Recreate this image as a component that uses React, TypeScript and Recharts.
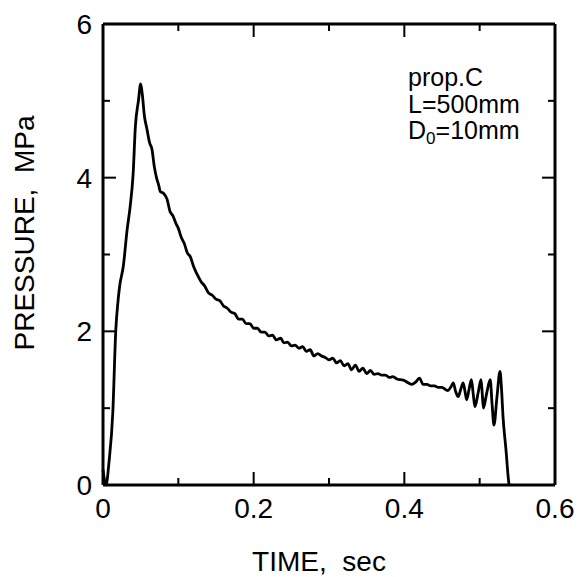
import React from 'react';
import { LineChart, Line, XAxis, YAxis } from 'recharts';

// pressure trace (time in sec, pressure in MPa)
const timeSec = [
  0.0, 0.004, 0.008, 0.013, 0.017, 0.02, 0.022, 0.027, 0.032, 0.036,
  0.04, 0.043, 0.047, 0.05, 0.052, 0.055, 0.058, 0.062, 0.065, 0.068,
  0.071, 0.074, 0.076, 0.08, 0.085, 0.089, 0.093, 0.097, 0.1, 0.104,
  0.108, 0.112, 0.116, 0.12, 0.125, 0.13, 0.135, 0.14, 0.145, 0.15,
  0.155, 0.16, 0.165, 0.17, 0.175, 0.18, 0.185, 0.19, 0.195, 0.2,
  0.205, 0.21, 0.215, 0.22, 0.225, 0.23, 0.236, 0.24, 0.245, 0.25,
  0.255, 0.26, 0.265, 0.27, 0.275, 0.28, 0.285, 0.29, 0.295, 0.3,
  0.305, 0.31, 0.315, 0.32, 0.325, 0.33, 0.335, 0.34, 0.345, 0.35,
  0.355, 0.36, 0.365, 0.37, 0.375, 0.38, 0.385, 0.39, 0.395, 0.4,
  0.405, 0.41, 0.415, 0.42, 0.425, 0.43, 0.435, 0.44, 0.445, 0.45,
  0.455, 0.458, 0.462, 0.465, 0.468, 0.4715, 0.475, 0.478, 0.4805, 0.4827,
  0.486, 0.489, 0.4915, 0.4937, 0.498, 0.5018, 0.5035, 0.505, 0.509, 0.514,
  0.5165, 0.519, 0.523, 0.527, 0.529, 0.531, 0.535, 0.538, 0.539,
];
const pressureMPa = [
  0.2, 0.0, 0.3, 0.94, 2.02, 2.4, 2.58, 2.85, 3.32, 3.62,
  4.05, 4.67, 5.0, 5.22, 5.1, 4.8, 4.65, 4.45, 4.37, 4.15,
  4.0, 3.9, 3.82, 3.8, 3.72, 3.56, 3.5, 3.4, 3.34, 3.22,
  3.14, 3.02, 2.97, 2.85, 2.74, 2.65, 2.59, 2.5, 2.47, 2.42,
  2.4, 2.33, 2.3, 2.25, 2.23, 2.16, 2.16, 2.1, 2.1, 2.04,
  2.04, 1.99, 1.99, 1.94, 1.95, 1.89, 1.91, 1.85, 1.86, 1.81,
  1.82, 1.78, 1.8, 1.74, 1.76, 1.68, 1.71, 1.68, 1.66, 1.63,
  1.65, 1.59, 1.62, 1.55, 1.58, 1.5, 1.56, 1.48, 1.52, 1.45,
  1.49, 1.44, 1.45, 1.43, 1.43, 1.4, 1.41, 1.38, 1.37, 1.36,
  1.33, 1.31, 1.34, 1.39, 1.31, 1.31, 1.29, 1.29, 1.27, 1.27,
  1.24, 1.23, 1.28, 1.33, 1.22, 1.15, 1.25, 1.33, 1.22, 1.11,
  1.25, 1.37, 1.18, 1.02, 1.2, 1.37, 1.18, 1.0, 1.18, 1.37,
  1.05, 0.78, 1.15, 1.48, 1.25, 0.89, 0.45, 0.09, 0.0,
];

const xTicks = [0, 0.1, 0.2, 0.3, 0.4, 0.5, 0.6];
const yTicks = [0, 1, 2, 3, 4, 5, 6];

const data = timeSec.map((t, i) => ({ t, p: pressureMPa[i] }));

const FONT = '"Liberation Sans", Arial, Helvetica, sans-serif';
const MAJOR = 13;
const MINOR = 7;

const isMajorX = (v: number) => Math.round(v * 10) % 2 === 0;
const isMajorY = (v: number) => Math.round(v) % 2 === 0;

const BottomTick = (props: any) => {
  const { x, y, payload } = props;
  const major = isMajorX(payload.value);
  return (
    <g>
      <line x1={x} x2={x} y1={y} y2={y - (major ? MAJOR : MINOR)} stroke="#000" strokeWidth={2} />
      {major && (
        <text x={x} y={y + 33} textAnchor="middle" fontSize={28} fontFamily={FONT} fill="#000">
          {String(payload.value)}
        </text>
      )}
    </g>
  );
};

const TopTick = (props: any) => {
  const { x, y, payload } = props;
  const major = isMajorX(payload.value);
  return <line x1={x} x2={x} y1={y} y2={y + (major ? MAJOR : MINOR)} stroke="#000" strokeWidth={2} />;
};

const LeftTick = (props: any) => {
  const { x, y, payload } = props;
  const major = isMajorY(payload.value);
  return (
    <g>
      <line x1={x} x2={x + (major ? MAJOR : MINOR)} y1={y} y2={y} stroke="#000" strokeWidth={2} />
      {major && (
        <text x={x - 11} y={y + 10} textAnchor="end" fontSize={28} fontFamily={FONT} fill="#000">
          {String(payload.value)}
        </text>
      )}
    </g>
  );
};

const RightTick = (props: any) => {
  const { x, y, payload } = props;
  const major = isMajorY(payload.value);
  return <line x1={x} x2={x - (major ? MAJOR : MINOR)} y1={y} y2={y} stroke="#000" strokeWidth={2} />;
};

const frame = { stroke: '#000', strokeWidth: 3 };

const App = () => {
  return (
    <div style={{ position: 'absolute', left: 0, top: 0, width: 580, height: 577, background: '#fff' }}>
      <LineChart width={580} height={577} data={data} margin={{ top: 23, right: 24, bottom: 0, left: 43 }}>
        <XAxis
          dataKey="t"
          type="number"
          domain={[0, 0.6]}
          ticks={xTicks}
          height={92}
          tickSize={0}
          tickMargin={0}
          tickLine={false}
          axisLine={frame}
          tick={<BottomTick />}
          interval={0}
        />
        <XAxis
          xAxisId="top"
          dataKey="t"
          orientation="top"
          type="number"
          domain={[0, 0.6]}
          ticks={xTicks}
          height={1}
          tickSize={0}
          tickMargin={0}
          tickLine={false}
          axisLine={frame}
          tick={<TopTick />}
          interval={0}
        />
        <YAxis
          type="number"
          domain={[0, 6]}
          ticks={yTicks}
          width={60}
          tickSize={0}
          tickMargin={0}
          tickLine={false}
          axisLine={frame}
          tick={<LeftTick />}
          interval={0}
        />
        <YAxis
          yAxisId="right"
          orientation="right"
          type="number"
          domain={[0, 6]}
          ticks={yTicks}
          width={1}
          tickSize={0}
          tickMargin={0}
          tickLine={false}
          axisLine={frame}
          tick={<RightTick />}
          interval={0}
        />
        {/* invisible copy so the top/right frame axes get registered */}
        <Line
          xAxisId="top"
          yAxisId="right"
          type="linear"
          dataKey="p"
          stroke="none"
          dot={false}
          activeDot={false}
          legendType="none"
          isAnimationActive={false}
        />
        <Line
          type="monotone"
          dataKey="p"
          stroke="#000"
          strokeWidth={2.8}
          strokeLinejoin="round"
          dot={false}
          isAnimationActive={false}
        />
      </LineChart>
      <svg
        width={580}
        height={577}
        style={{ position: 'absolute', left: 0, top: 0, pointerEvents: 'none' }}
        fontFamily={FONT}
        fill="#000"
      >
        <text x={319} y={571} textAnchor="middle" fontSize={28} xmlSpace="preserve">
          TIME,  sec
        </text>
        <text
          transform="translate(34 233) rotate(-90)"
          textAnchor="middle"
          fontSize={28}
          xmlSpace="preserve"
        >
          PRESSURE,  MPa
        </text>
        <text x={408} y={86} fontSize={25}>prop.C</text>
        <text x={408} y={113} fontSize={25}>L=500mm</text>
        <text x={408} y={139} fontSize={25}>
          D<tspan fontSize={17} dy={5}>0</tspan>
          <tspan dy={-5}>=10mm</tspan>
        </text>
      </svg>
    </div>
  );
};

export default App;
